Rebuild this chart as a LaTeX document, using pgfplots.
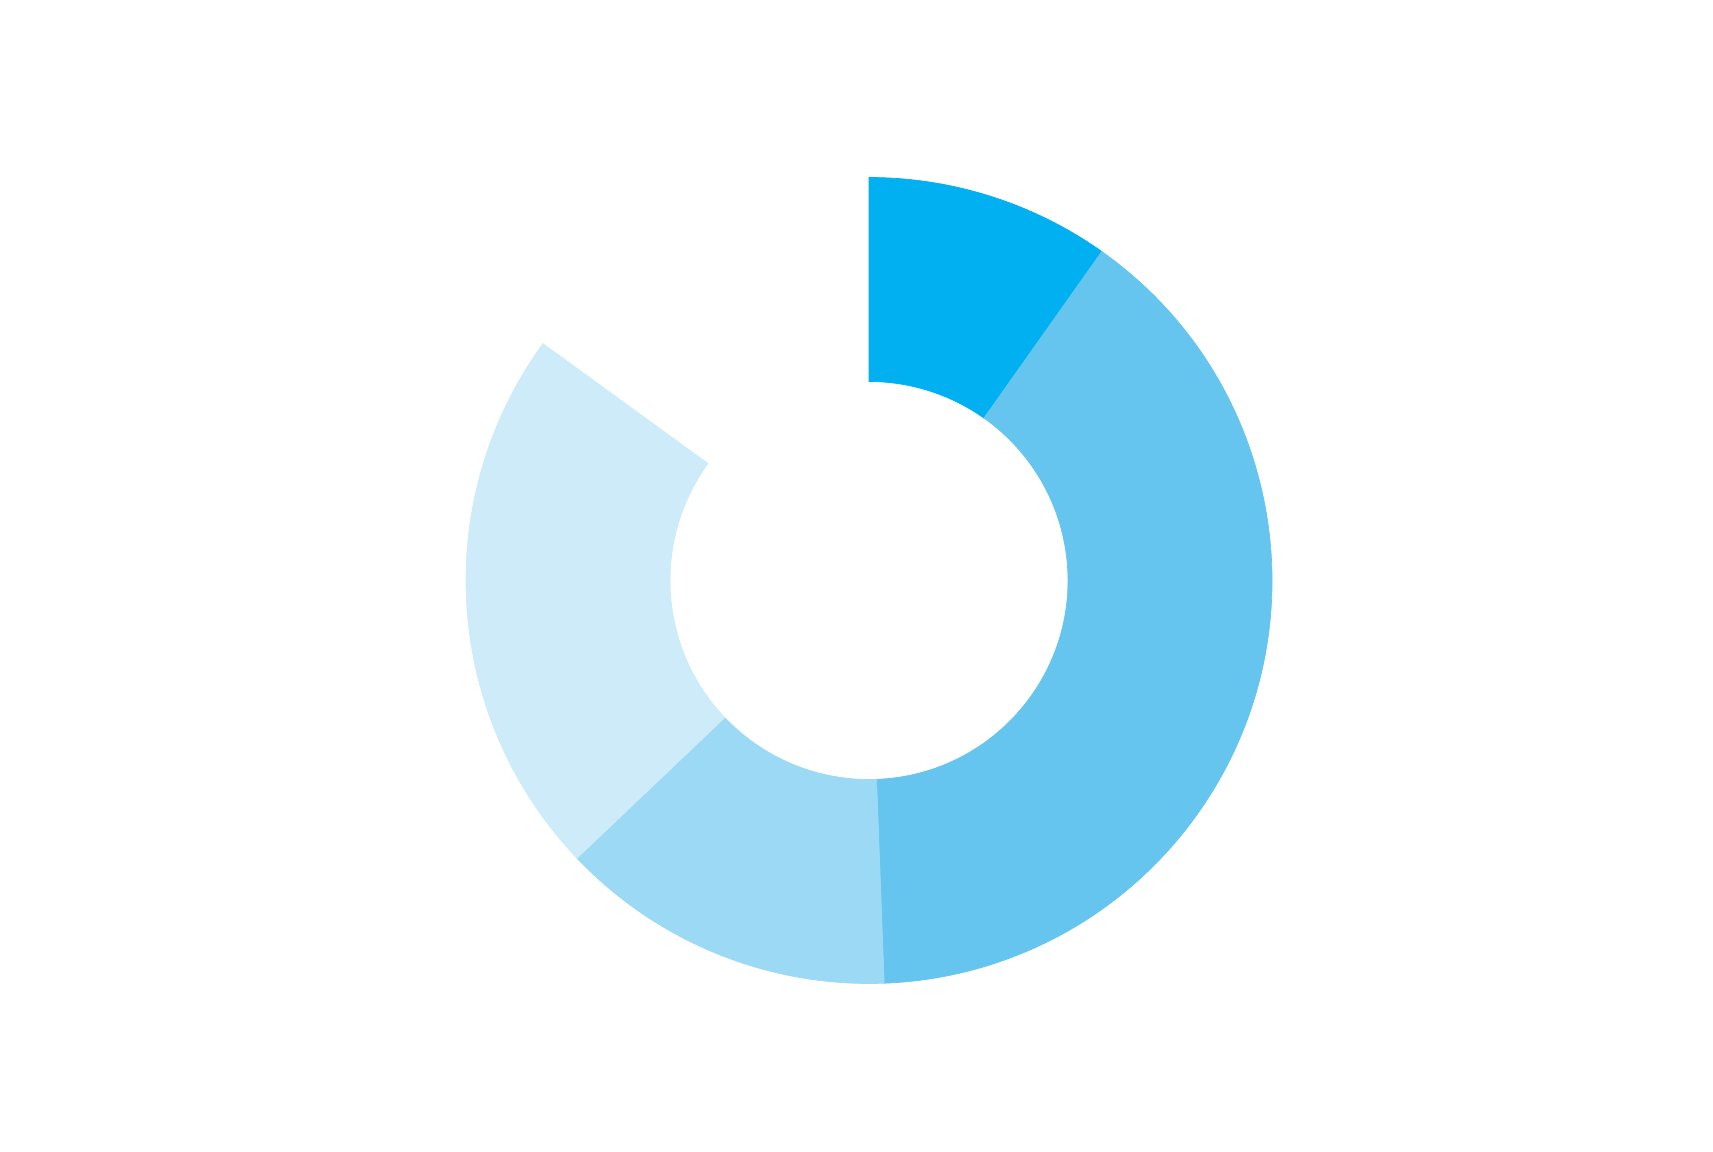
\documentclass[border=0pt]{standalone}
\usepackage{pgfplots}
\usepackage{pgfplotstable}
\pgfplotsset{compat=1.18}
\definecolor{slice0}{HTML}{00B0F0}
\definecolor{slice1}{HTML}{66C5EE}
\definecolor{slice2}{HTML}{9CD9F4}
\definecolor{slice3}{HTML}{CDEBF8}

% share of the full circle, clockwise from the top; the last 15.0 is left empty
\pgfplotstableread{
part value
1 9.8
2 39.6
3 13.5
4 22.1
}\slices

\begin{document}
\begin{tikzpicture}
\def\cx{869}\def\cy{570.5}
\def\rout{4.03cm}\def\rin{1.99cm}
\gdef\cum{0}
\foreach \i in {0,...,3}{
  \pgfplotstablegetelem{\i}{value}\of\slices
  \pgfmathsetmacro\s{90-3.6*\cum}
  \pgfmathsetmacro\newcum{\cum+\pgfplotsretval}
  \pgfmathsetmacro\e{90-3.6*\newcum}
  \expandafter\xdef\csname sa\i\endcsname{\s}
  \expandafter\xdef\csname ea\i\endcsname{\e}
  \xdef\cum{\newcum}
}
\begin{axis}[scale only axis, width=17.13cm, height=11.51cm,
  xmin=0, xmax=1713, ymin=0, ymax=1151, hide axis, clip=false]
\pgfplotsinvokeforeach{0,...,3}{
  \fill[slice#1, draw=slice#1, line width=0.2pt]
    ([shift={(\csname sa#1\endcsname:\rout)}]axis cs:\cx,\cy)
    arc[start angle=\csname sa#1\endcsname, end angle=\csname ea#1\endcsname, radius=\rout]
    -- ([shift={(\csname ea#1\endcsname:\rin)}]axis cs:\cx,\cy)
    arc[start angle=\csname ea#1\endcsname, end angle=\csname sa#1\endcsname, radius=\rin]
    -- cycle;
}
\path (axis cs:0,0) rectangle (axis cs:1713,1151);
\end{axis}
\end{tikzpicture}
\end{document}
